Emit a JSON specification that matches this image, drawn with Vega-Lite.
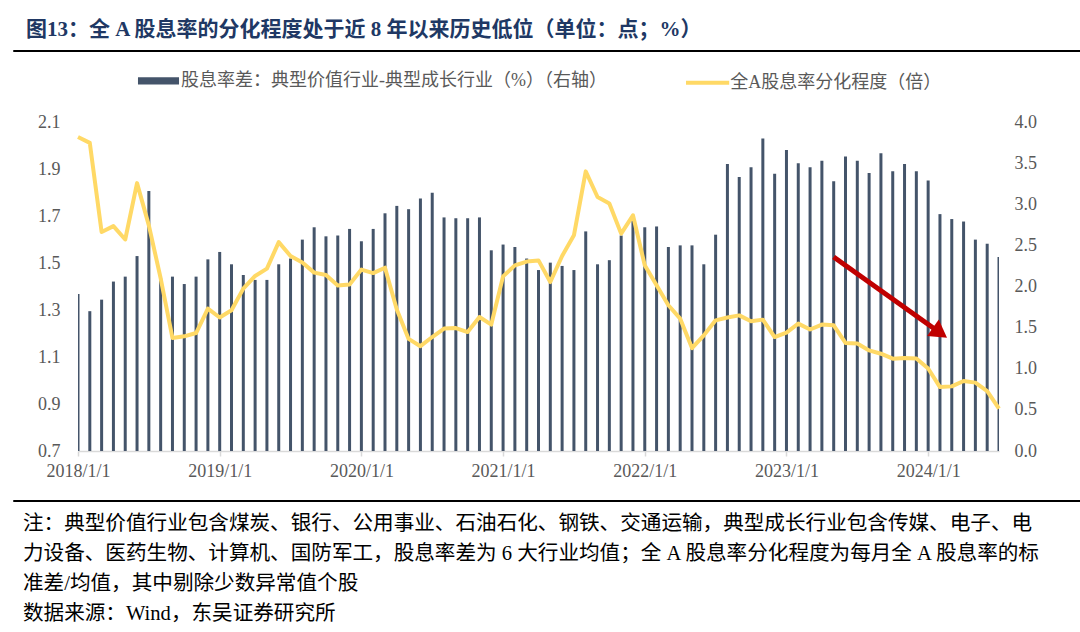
{
  "$schema": "https://vega.github.io/schema/vega-lite/v6.json",
  "background": "#ffffff",
  "padding": {"left": 12, "top": 18, "right": 0, "bottom": 0},
  "autosize": {"type": "pad"},
  "spacing": 17,
  "config": {
    "font": "Liberation Serif, Noto Sans CJK SC",
    "view": {"stroke": null},
    "axis": {"labelFontSize": 18, "labelColor": "#595959", "grid": false, "domain": false, "ticks": false, "title": null},
    "legend": {"title": null, "padding": 0, "labelFontSize": 18, "labelColor": "#595959", "labelLimit": 800, "symbolSize": 324}
  },
  "resolve": {"scale": {"color": "independent", "stroke": "independent"}, "legend": {"color": "independent", "stroke": "independent"}},
  "datasets": {
    "main": [
      {"month": "2018-01", "spread": 1.91, "dispersion": 2.036},
      {"month": "2018-02", "spread": 1.70, "dispersion": 2.011},
      {"month": "2018-03", "spread": 1.84, "dispersion": 1.632},
      {"month": "2018-04", "spread": 2.06, "dispersion": 1.657},
      {"month": "2018-05", "spread": 2.12, "dispersion": 1.600},
      {"month": "2018-06", "spread": 2.37, "dispersion": 1.840},
      {"month": "2018-07", "spread": 3.16, "dispersion": 1.660},
      {"month": "2018-08", "spread": 2.10, "dispersion": 1.435},
      {"month": "2018-09", "spread": 2.12, "dispersion": 1.181},
      {"month": "2018-10", "spread": 2.03, "dispersion": 1.188},
      {"month": "2018-11", "spread": 2.12, "dispersion": 1.202},
      {"month": "2018-12", "spread": 2.33, "dispersion": 1.306},
      {"month": "2019-01", "spread": 2.42, "dispersion": 1.268},
      {"month": "2019-02", "spread": 2.27, "dispersion": 1.299},
      {"month": "2019-03", "spread": 2.14, "dispersion": 1.391},
      {"month": "2019-04", "spread": 2.08, "dispersion": 1.445},
      {"month": "2019-05", "spread": 2.08, "dispersion": 1.476},
      {"month": "2019-06", "spread": 2.27, "dispersion": 1.589},
      {"month": "2019-07", "spread": 2.34, "dispersion": 1.530},
      {"month": "2019-08", "spread": 2.57, "dispersion": 1.502},
      {"month": "2019-09", "spread": 2.72, "dispersion": 1.459},
      {"month": "2019-10", "spread": 2.61, "dispersion": 1.449},
      {"month": "2019-11", "spread": 2.62, "dispersion": 1.404},
      {"month": "2019-12", "spread": 2.70, "dispersion": 1.409},
      {"month": "2020-01", "spread": 2.55, "dispersion": 1.472},
      {"month": "2020-02", "spread": 2.70, "dispersion": 1.457},
      {"month": "2020-03", "spread": 2.89, "dispersion": 1.480},
      {"month": "2020-04", "spread": 2.98, "dispersion": 1.302},
      {"month": "2020-05", "spread": 2.94, "dispersion": 1.177},
      {"month": "2020-06", "spread": 3.07, "dispersion": 1.146},
      {"month": "2020-07", "spread": 3.14, "dispersion": 1.185},
      {"month": "2020-08", "spread": 2.84, "dispersion": 1.221},
      {"month": "2020-09", "spread": 2.83, "dispersion": 1.223},
      {"month": "2020-10", "spread": 2.83, "dispersion": 1.206},
      {"month": "2020-11", "spread": 2.84, "dispersion": 1.270},
      {"month": "2020-12", "spread": 2.44, "dispersion": 1.238},
      {"month": "2021-01", "spread": 2.51, "dispersion": 1.443},
      {"month": "2021-02", "spread": 2.48, "dispersion": 1.490},
      {"month": "2021-03", "spread": 2.34, "dispersion": 1.506},
      {"month": "2021-04", "spread": 2.20, "dispersion": 1.511},
      {"month": "2021-05", "spread": 2.29, "dispersion": 1.419},
      {"month": "2021-06", "spread": 2.25, "dispersion": 1.530},
      {"month": "2021-07", "spread": 2.20, "dispersion": 1.618},
      {"month": "2021-08", "spread": 2.67, "dispersion": 1.890},
      {"month": "2021-09", "spread": 2.27, "dispersion": 1.781},
      {"month": "2021-10", "spread": 2.32, "dispersion": 1.753},
      {"month": "2021-11", "spread": 2.62, "dispersion": 1.625},
      {"month": "2021-12", "spread": 2.80, "dispersion": 1.703},
      {"month": "2022-01", "spread": 2.72, "dispersion": 1.490},
      {"month": "2022-02", "spread": 2.73, "dispersion": 1.405},
      {"month": "2022-03", "spread": 2.48, "dispersion": 1.320},
      {"month": "2022-04", "spread": 2.50, "dispersion": 1.263},
      {"month": "2022-05", "spread": 2.50, "dispersion": 1.138},
      {"month": "2022-06", "spread": 2.27, "dispersion": 1.192},
      {"month": "2022-07", "spread": 2.63, "dispersion": 1.256},
      {"month": "2022-08", "spread": 3.49, "dispersion": 1.268},
      {"month": "2022-09", "spread": 3.33, "dispersion": 1.277},
      {"month": "2022-10", "spread": 3.45, "dispersion": 1.252},
      {"month": "2022-11", "spread": 3.80, "dispersion": 1.259},
      {"month": "2022-12", "spread": 3.37, "dispersion": 1.185},
      {"month": "2023-01", "spread": 3.66, "dispersion": 1.204},
      {"month": "2023-02", "spread": 3.50, "dispersion": 1.242},
      {"month": "2023-03", "spread": 3.45, "dispersion": 1.217},
      {"month": "2023-04", "spread": 3.53, "dispersion": 1.238},
      {"month": "2023-05", "spread": 3.28, "dispersion": 1.235},
      {"month": "2023-06", "spread": 3.58, "dispersion": 1.160},
      {"month": "2023-07", "spread": 3.53, "dispersion": 1.157},
      {"month": "2023-08", "spread": 3.38, "dispersion": 1.128},
      {"month": "2023-09", "spread": 3.62, "dispersion": 1.114},
      {"month": "2023-10", "spread": 3.40, "dispersion": 1.093},
      {"month": "2023-11", "spread": 3.49, "dispersion": 1.096},
      {"month": "2023-12", "spread": 3.40, "dispersion": 1.094},
      {"month": "2024-01", "spread": 3.29, "dispersion": 1.051},
      {"month": "2024-02", "spread": 2.88, "dispersion": 0.972},
      {"month": "2024-03", "spread": 2.82, "dispersion": 0.975},
      {"month": "2024-04", "spread": 2.79, "dispersion": 0.998},
      {"month": "2024-05", "spread": 2.57, "dispersion": 0.991},
      {"month": "2024-06", "spread": 2.52, "dispersion": 0.955},
      {"month": "2024-07", "spread": 2.36, "dispersion": 0.880}
    ],
    "arrow": [
      {"month": "2023-05", "month2": "2024-02", "value": 1.5255, "value2": 1.203}
    ]
  },
  "vconcat": [
    {
      "title": {"text": "图13：全 A 股息率的分化程度处于近 8 年以来历史低位（单位：点；%）", "anchor": "start", "dx": 13, "offset": 8, "fontSize": 21, "fontWeight": "bold", "color": "#203864"},
      "width": 1068,
      "height": 1,
      "view": {"stroke": "#000000", "strokeWidth": 1},
      "data": {"values": [{"k": 1}]},
      "mark": {"type": "point", "opacity": 0},
      "encoding": {}
    },
    {
      "spacing": 0,
      "resolve": {"scale": {"color": "independent", "stroke": "independent"}, "legend": {"color": "independent", "stroke": "independent"}},
      "hconcat": [
        {
          "width": 24,
          "height": 1,
          "data": {"values": [{"k": 1}]},
          "mark": {"type": "point", "opacity": 0},
          "encoding": {}
        },
        {
          "width": 921,
          "height": 329,
          "data": {"name": "main"},
          "layer": [
            {
              "mark": {"type": "bar", "width": 3, "clip": true},
              "encoding": {
                "x": {
                  "field": "month", "type": "ordinal",
                  "scale": {"type": "point", "padding": 0},
                  "axis": {
                    "values": ["2018-01", "2019-01", "2020-01", "2021-01", "2022-01", "2023-01", "2024-01"],
                    "labelExpr": "replace(datum.value, '-01', '/1/1')",
                    "labelAngle": 0,
                    "domain": true, "domainColor": "#D9D9D9", "domainWidth": 1.5,
                    "ticks": true, "tickColor": "#D9D9D9", "tickSize": 5, "tickWidth": 1.5,
                    "labelPadding": 6, "title": null
                  }
                },
                "y": {
                  "field": "spread", "type": "quantitative",
                  "scale": {"domain": [0, 4], "nice": false},
                  "axis": {"orient": "right", "values": [0, 0.5, 1, 1.5, 2, 2.5, 3, 3.5, 4], "format": ".1f", "labelPadding": 15, "labelAlign": "left", "labelBaseline": "middle", "title": null}
                },
                "color": {
                  "datum": "股息率差：典型价值行业-典型成长行业（%）（右轴）",
                  "scale": {"range": ["#44546A"]},
                  "legend": {"orient": "none", "legendX": 71.5, "legendY": -50.2, "symbolType": "M-2.28,-0.4H2.28V0.4H-2.28Z", "symbolStrokeWidth": 0, "labelOffset": 13.5}
                }
              }
            },
            {
              "layer": [
                {
                  "mark": {"type": "line", "strokeWidth": 4, "strokeJoin": "round"},
                  "encoding": {
                    "x": {
                      "field": "month", "type": "ordinal",
                      "scale": {"type": "point", "padding": 0},
                      "axis": {
                        "values": ["2018-01", "2019-01", "2020-01", "2021-01", "2022-01", "2023-01", "2024-01"],
                        "labelExpr": "replace(datum.value, '-01', '/1/1')",
                        "labelAngle": 0,
                        "domain": true, "domainColor": "#D9D9D9", "domainWidth": 1.5,
                        "ticks": true, "tickColor": "#D9D9D9", "tickSize": 5, "tickWidth": 1.5,
                        "labelPadding": 6, "title": null
                      }
                    },
                    "y": {
                      "field": "dispersion", "type": "quantitative",
                      "scale": {"domain": [0.7, 2.1], "nice": false, "zero": false},
                      "axis": {"orient": "left", "values": [0.7, 0.9, 1.1, 1.3, 1.5, 1.7, 1.9, 2.1], "format": ".1f", "labelPadding": 18, "labelAlign": "right", "labelBaseline": "middle", "title": null}
                    },
                    "stroke": {
                      "datum": "全A股息率分化程度（倍）",
                      "scale": {"range": ["#FFD966"]},
                      "legend": {"orient": "none", "legendX": 618.6, "legendY": -50.2, "symbolType": "M-2.4,0H2.4", "symbolStrokeWidth": 4, "labelOffset": 11.6}
                    }
                  }
                },
                {
                  "data": {"name": "arrow"},
                  "mark": {"type": "rule", "strokeWidth": 5, "color": "#C00000", "strokeCap": "butt"},
                  "encoding": {
                    "x": {
                      "field": "month", "type": "ordinal",
                      "scale": {"type": "point", "padding": 0},
                      "axis": {
                        "values": ["2018-01", "2019-01", "2020-01", "2021-01", "2022-01", "2023-01", "2024-01"],
                        "labelExpr": "replace(datum.value, '-01', '/1/1')",
                        "labelAngle": 0,
                        "domain": true, "domainColor": "#D9D9D9", "domainWidth": 1.5,
                        "ticks": true, "tickColor": "#D9D9D9", "tickSize": 5, "tickWidth": 1.5,
                        "labelPadding": 6, "title": null
                      }
                    },
                    "x2": {"field": "month2"},
                    "y": {
                      "field": "value", "type": "quantitative",
                      "scale": {"domain": [0.7, 2.1], "nice": false, "zero": false},
                      "axis": {"orient": "left", "values": [0.7, 0.9, 1.1, 1.3, 1.5, 1.7, 1.9, 2.1], "format": ".1f", "labelPadding": 18, "labelAlign": "right", "labelBaseline": "middle", "title": null}
                    },
                    "y2": {"field": "value2"}
                  }
                },
                {
                  "data": {"name": "arrow"},
                  "mark": {"type": "point", "shape": "triangle-up", "angle": 125.5, "size": 400, "filled": true, "color": "#C00000", "opacity": 1},
                  "encoding": {
                    "x": {
                      "field": "month2", "type": "ordinal",
                      "scale": {"type": "point", "padding": 0},
                      "axis": {
                        "values": ["2018-01", "2019-01", "2020-01", "2021-01", "2022-01", "2023-01", "2024-01"],
                        "labelExpr": "replace(datum.value, '-01', '/1/1')",
                        "labelAngle": 0,
                        "domain": true, "domainColor": "#D9D9D9", "domainWidth": 1.5,
                        "ticks": true, "tickColor": "#D9D9D9", "tickSize": 5, "tickWidth": 1.5,
                        "labelPadding": 6, "title": null
                      }
                    },
                    "y": {
                      "field": "value2", "type": "quantitative",
                      "scale": {"domain": [0.7, 2.1], "nice": false, "zero": false},
                      "axis": {"orient": "left", "values": [0.7, 0.9, 1.1, 1.3, 1.5, 1.7, 1.9, 2.1], "format": ".1f", "labelPadding": 18, "labelAlign": "right", "labelBaseline": "middle", "title": null}
                    }
                  }
                }
              ]
            }
          ],
          "resolve": {"scale": {"y": "independent"}}
        }
      ]
    },
    {
      "title": {
        "text": [
          "注：典型价值行业包含煤炭、银行、公用事业、石油石化、钢铁、交通运输，典型成长行业包含传媒、电子、电",
          "力设备、医药生物、计算机、国防军工，股息率差为 6 大行业均值；全 A 股息率分化程度为每月全 A 股息率的标",
          "准差/均值，其中剔除少数异常值个股",
          "数据来源：Wind，东吴证券研究所"
        ],
        "orient": "bottom", "anchor": "start", "dx": 10, "offset": 11,
        "fontSize": 20.6, "fontWeight": "normal", "lineHeight": 30, "color": "#000000"
      },
      "width": 1068,
      "height": 1,
      "view": {"stroke": "#000000", "strokeWidth": 1},
      "data": {"values": [{"k": 1}]},
      "mark": {"type": "point", "opacity": 0},
      "encoding": {}
    }
  ]
}
